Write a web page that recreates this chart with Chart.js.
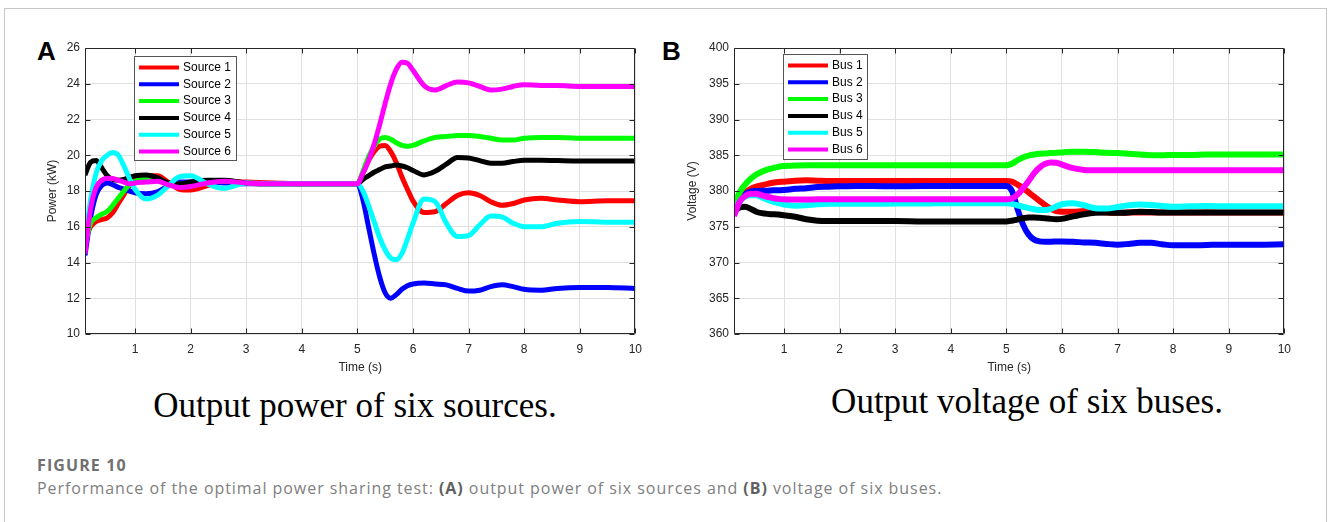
<!DOCTYPE html>
<html>
<head>
<meta charset="utf-8">
<script src="https://cdn.jsdelivr.net/npm/chart.js@4.4.0/dist/chart.umd.min.js"></script>
<style>
  body { margin: 0; background: #fff; }
  #frame { position: absolute; left: 4px; top: 8px; width: 1321px; height: 530px; border: 1px solid #c6c6c6; }
  canvas { position: absolute; }
  .panel { position: absolute; font: bold 26px "Liberation Sans", Arial, sans-serif; color: #000; line-height: 1; }
  .sub { position: absolute; font: 35px "Liberation Serif", "Times New Roman", serif; color: #000; white-space: nowrap; transform: translateX(-50%); line-height: 1; }
  .figno { position: absolute; left: 37px; top: 454px; font: bold 16px "Open Sans", "Noto Sans", sans-serif; color: #707070; letter-spacing: 1.1px; }
  .caption { position: absolute; left: 37px; top: 477px; font: 16px "Open Sans", "Noto Sans", sans-serif; color: #808080; white-space: nowrap; letter-spacing: 0.95px; }
  .caption b { color: #606060; }
</style>
</head>
<body>
<div id="frame"></div>
<div class="panel" style="left:37px; top:38px;">A</div>
<div class="panel" style="left:662px; top:38px;">B</div>
<canvas id="powerChart" width="620" height="350" style="left:30px; top:30px;"></canvas>
<canvas id="voltageChart" width="620" height="350" style="left:679px; top:30px;"></canvas>
<div class="sub" style="left:355px; top:388px;">Output power of six sources.</div>
<div class="sub" style="left:1027px; top:384px;">Output voltage of six buses.</div>
<div class="figno">FIGURE 10</div>
<div class="caption">Performance of the optimal power sharing test: <b>(A)</b> output power of six sources and <b>(B)</b> voltage of six buses.</div>

<script>
// Sample times (s), shared by all curves
const time = [0.1,0.2,0.3,0.4,0.5,0.6,0.7,0.8,0.9,1.0, 1.2,1.4,1.6,1.8,2.0,
  2.3,2.6,3.0,3.5,4.0,4.5,5.0, 5.1,5.2,5.3,5.4,5.5,5.6,5.7,5.8,5.9,6.0,
  6.2,6.4,6.6,6.8,7.0,7.2,7.4,7.6,7.8,8.0, 8.3,8.6,9.0,9.5,10];

const lineColors = ['#ff0000','#0000ff','#00ff00','#000000','#00ffff','#ff00ff'];
const sourceLabels = ['Source 1','Source 2','Source 3','Source 4','Source 5','Source 6'];
const busLabels = ['Bus 1','Bus 2','Bus 3','Bus 4','Bus 5','Bus 6'];

// Panel A: power (kW)
const source1 = [15.2,16.0,16.3,16.4,16.5,16.8,17.3,17.8,18.3,18.6, 18.85,18.85,18.5,18.1,18.05,
  18.3,18.55,18.5,18.45,18.4,18.4,18.4, 19.0,19.7,20.2,20.5,20.55,20.2,19.6,18.8,18.1,17.45,
  16.8,16.85,17.3,17.75,17.9,17.75,17.4,17.2,17.3,17.5, 17.6,17.5,17.4,17.45,17.45];
const source2 = [14.4,16.5,17.8,18.3,18.45,18.35,18.2,18.1,18.0,17.9, 17.85,17.95,18.3,18.5,18.5,
  18.5,18.45,18.4,18.4,18.4,18.4,18.4, 17.5,16.0,14.5,13.2,12.3,12.0,12.2,12.5,12.7,12.8,
  12.85,12.8,12.75,12.55,12.4,12.45,12.65,12.75,12.65,12.5, 12.45,12.55,12.6,12.6,12.55];
const source3 = [15.0,16.2,16.5,16.7,16.85,17.2,17.6,18.0,18.35,18.55, 18.7,18.6,18.4,18.3,18.3,
  18.5,18.55,18.45,18.4,18.4,18.4,18.4, 19.1,19.9,20.5,20.9,21.0,20.9,20.7,20.55,20.5,20.55,
  20.8,21.0,21.05,21.1,21.1,21.05,20.95,20.85,20.85,20.95, 21.0,21.0,20.95,20.95,20.95];
const source4 = [18.9,19.6,19.7,19.3,18.85,18.65,18.6,18.65,18.75,18.85, 18.9,18.75,18.45,18.4,18.5,
  18.6,18.6,18.45,18.4,18.4,18.4,18.4, 18.65,18.85,19.05,19.2,19.35,19.4,19.45,19.4,19.3,19.15,
  18.9,19.1,19.5,19.88,19.85,19.7,19.55,19.55,19.65,19.72, 19.72,19.7,19.68,19.68,19.68];
const source5 = [15.1,17.5,19.0,19.7,20.0,20.15,20.0,19.4,18.7,18.1, 17.55,17.75,18.3,18.8,18.85,
  18.4,18.15,18.45,18.4,18.4,18.4,18.4, 18.0,17.2,16.3,15.4,14.7,14.25,14.15,14.5,15.3,16.2,
  17.55,17.4,16.2,15.45,15.5,16.1,16.6,16.55,16.2,16.0, 16.0,16.2,16.3,16.25,16.25];
const source6 = [14.5,17.0,18.2,18.6,18.72,18.7,18.6,18.5,18.4,18.45, 18.5,18.55,18.35,18.2,18.25,
  18.45,18.55,18.45,18.4,18.4,18.4,18.4, 19.0,19.7,20.6,21.7,22.9,24.0,24.8,25.2,25.15,24.75,
  23.9,23.65,23.9,24.1,24.05,23.85,23.65,23.7,23.85,23.95, 23.9,23.9,23.85,23.85,23.85];

// Panel B: voltage (V)
const bus1 = [377.5,379.0,379.8,380.3,380.6,380.8,381.0,381.15,381.25,381.3, 381.45,381.5,381.45,381.4,381.4,
  381.4,381.4,381.4,381.4,381.4,381.4,381.4, 381.3,380.9,380.4,379.8,379.2,378.6,378.0,377.5,377.2,377.1,
  377.1,377.2,377.1,377.0,376.95,377.0,377.0,377.0,377.0,377.0, 377.0,377.0,377.0,377.0,377.0];
const bus2 = [376.8,378.5,379.5,379.9,380.0,380.05,380.05,380.1,380.1,380.15, 380.3,380.4,380.55,380.6,380.65,
  380.7,380.7,380.65,380.7,380.7,380.7,380.7, 380.0,377.5,375.3,373.9,373.2,372.95,372.9,372.9,372.95,372.95,
  372.9,372.8,372.75,372.6,372.5,372.6,372.75,372.75,372.55,372.4, 372.4,372.45,372.5,372.5,372.55];
const bus3 = [378.0,379.8,380.9,381.7,382.3,382.7,383.0,383.2,383.4,383.5, 383.55,383.6,383.6,383.6,383.6,
  383.6,383.6,383.6,383.6,383.6,383.6,383.6, 383.8,384.3,384.7,384.95,385.1,385.2,385.25,385.3,385.35,385.4,
  385.5,385.5,385.45,385.35,385.3,385.2,385.1,385.0,385.0,385.05, 385.05,385.1,385.1,385.1,385.1];
const bus4 = [377.1,377.7,377.8,377.5,377.1,376.9,376.8,376.75,376.7,376.6, 376.4,376.05,375.85,375.8,375.8,
  375.8,375.8,375.8,375.75,375.75,375.75,375.75, 375.85,376.0,376.2,376.3,376.3,376.25,376.2,376.1,376.05,376.1,
  376.45,376.75,376.95,377.0,376.95,377.0,377.1,377.05,377.0,377.0, 377.0,377.0,377.0,377.0,377.0];
const bus5 = [377.0,378.5,379.2,379.4,379.4,379.1,378.8,378.5,378.3,378.1, 377.95,378.0,378.15,378.2,378.2,
  378.2,378.2,378.25,378.25,378.3,378.3,378.3, 378.2,378.0,377.8,377.6,377.45,377.35,377.35,377.5,377.85,378.15,
  378.3,378.0,377.6,377.55,377.75,378.0,378.1,378.05,377.9,377.8, 377.85,377.9,377.85,377.85,377.85];
const bus6 = [376.5,378.5,379.3,379.6,379.6,379.4,379.2,379.0,378.9,378.85, 378.8,378.8,378.85,378.85,378.85,
  378.85,378.85,378.85,378.85,378.85,378.85,378.85, 378.95,379.5,380.4,381.4,382.5,383.3,383.8,384.0,383.95,383.7,
  383.2,382.95,382.9,382.9,382.9,382.9,382.9,382.9,382.9,382.9, 382.9,382.9,382.9,382.9,382.9];

// Tick labels
const timeTicks = [1,2,3,4,5,6,7,8,9,10];
const powerTicks = [10,12,14,16,18,20,22,24,26];
const voltageTicks = [360,365,370,375,380,385,390,395,400];

const axisColor = '#262626';
const tickFont = { family: '"Liberation Sans", Arial, sans-serif', size: 12 };

// box around the plot with inward ticks, like MATLAB
const boxPlugin = {
  id: 'matlabBox',
  afterDatasetsDraw(chart) {
    const { ctx, chartArea: a, scales: { x, y } } = chart;
    const l = Math.round(a.left) + 0.5, r = Math.round(a.right) - 0.5;
    const t = Math.round(a.top) + 0.5, b = Math.round(a.bottom) - 0.5;
    ctx.save();
    ctx.strokeStyle = axisColor;
    ctx.lineWidth = 1;
    ctx.beginPath();
    ctx.rect(l, t, r - l, b - t);
    x.ticks.forEach(tk => {
      const px = Math.round(x.getPixelForValue(tk.value)) + 0.5;
      ctx.moveTo(px, b); ctx.lineTo(px, b - 5);
      ctx.moveTo(px, t); ctx.lineTo(px, t + 5);
    });
    y.ticks.forEach(tk => {
      const py = Math.round(y.getPixelForValue(tk.value)) + 0.5;
      ctx.moveTo(l, py); ctx.lineTo(l + 5, py);
      ctx.moveTo(r, py); ctx.lineTo(r - 5, py);
    });
    ctx.stroke();
    ctx.restore();
  }
};

// legend box drawn inside the plot area
const insideLegend = {
  id: 'insideLegend',
  afterDraw(chart, args, opts) {
    const { ctx, chartArea: a } = chart;
    const bx = Math.round(a.left + opts.left), by = Math.round(a.top + opts.top);
    ctx.save();
    ctx.fillStyle = '#fff';
    ctx.fillRect(bx, by, opts.width, opts.height);
    ctx.strokeStyle = '#555';
    ctx.lineWidth = 1;
    ctx.strokeRect(bx + 0.5, by + 0.5, opts.width, opts.height);
    ctx.font = '12px "Liberation Sans", Arial, sans-serif';
    ctx.textBaseline = 'middle';
    chart.data.datasets.forEach((ds, i) => {
      const cy = by + 11.5 + i * 16.8;
      ctx.strokeStyle = ds.borderColor;
      ctx.lineWidth = 4;
      ctx.beginPath();
      ctx.moveTo(bx + 5, cy);
      ctx.lineTo(bx + opts.sample, cy);
      ctx.stroke();
      ctx.fillStyle = '#000';
      ctx.fillText(ds.label, bx + opts.sample + 4, cy);
    });
    ctx.restore();
  }
};

function makeChart(id, labels, series, yTicks, yTitle, yTitlePad, width, legendBox) {
  const datasets = series.map((vals, i) => ({
    label: labels[i],
    data: time.map((t, k) => ({ x: t, y: vals[k] })),
    borderColor: lineColors[i],
    backgroundColor: lineColors[i],
    borderWidth: width,
    pointRadius: 0,
    cubicInterpolationMode: 'monotone',
    order: series.length - i
  }));
  return new Chart(document.getElementById(id), {
    type: 'line',
    data: { datasets },
    plugins: [boxPlugin, insideLegend],
    options: {
      responsive: false,
      animation: false,
      layout: { padding: { top: 18, right: 12, left: 0, bottom: 0 } },
      plugins: {
        legend: { display: false },
        tooltip: { enabled: false },
        insideLegend: legendBox
      },
      scales: {
        x: {
          type: 'linear',
          min: 0.1,
          max: 10,
          afterBuildTicks: s => { s.ticks = timeTicks.map(v => ({ value: v })); },
          afterFit: s => { s.height = 46; },
          grid: { color: '#e0e0e0', drawTicks: false },
          border: { display: false },
          ticks: { color: axisColor, font: tickFont, padding: 8, maxRotation: 0 },
          title: { display: true, text: 'Time (s)', color: axisColor, font: tickFont, padding: { top: 0, bottom: 5 } }
        },
        y: {
          min: yTicks[0],
          max: yTicks[yTicks.length - 1],
          afterBuildTicks: s => { s.ticks = yTicks.map(v => ({ value: v })); },
          afterFit: s => { s.width = 55; },
          grid: { color: '#e0e0e0', drawTicks: false },
          border: { display: false },
          ticks: { color: axisColor, font: tickFont, padding: 5 },
          title: { display: true, text: yTitle, color: axisColor, font: tickFont, padding: { top: yTitlePad, bottom: 0 } }
        }
      }
    }
  });
}

makeChart('powerChart', sourceLabels, [source1, source2, source3, source4, source5, source6],
  powerTicks, 'Power (kW)', 15, 5, { left: 49, top: 8, width: 102, height: 104, sample: 45 });
makeChart('voltageChart', busLabels, [bus1, bus2, bus3, bus4, bus5, bus6],
  voltageTicks, 'Voltage (V)', 6, 6, { left: 49, top: 6, width: 84, height: 105, sample: 45 });
</script>
</body>
</html>
